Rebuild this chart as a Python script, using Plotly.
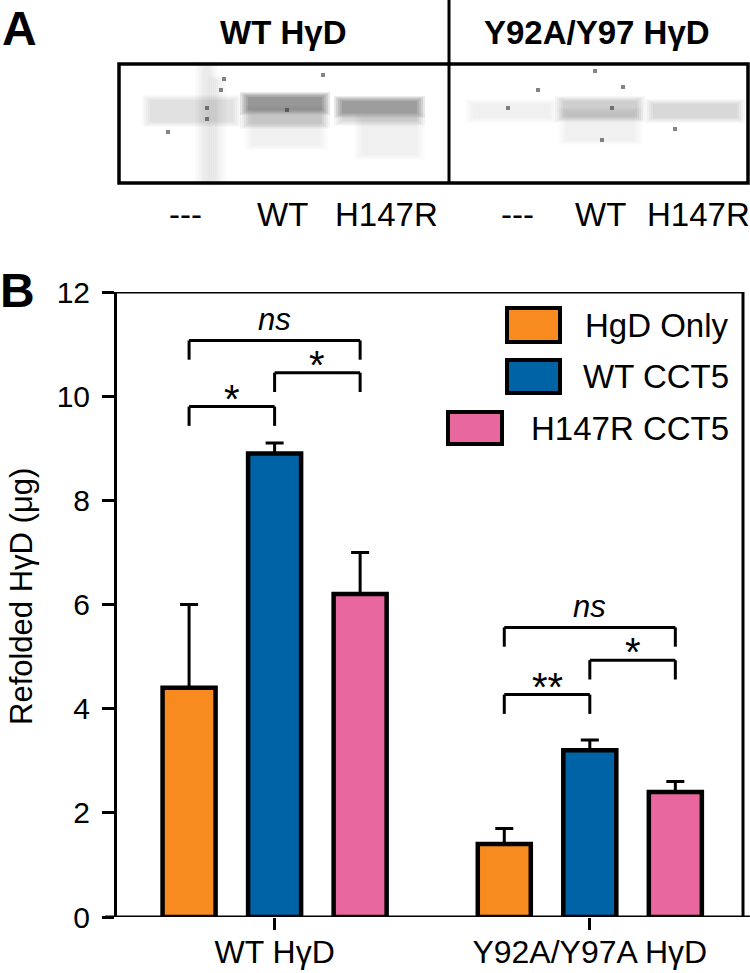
import plotly.graph_objects as go

W, H = 750, 973
FONT = "Liberation Sans, Arial, sans-serif"

# ---------------- data ----------------
categories = ["WT HγD", "Y92A/Y97A HγD"]
series_names = ["HgD Only", "WT CCT5", "H147R CCT5"]
series_colors = ["#F78B1F", "#0063A6", "#E8679E"]
hgd_only = [4.4, 1.4]
wt_cct5 = [8.9, 3.2]
h147r_cct5 = [6.2, 2.4]
hgd_only_err = [1.6, 0.3]
wt_cct5_err = [0.2, 0.2]
h147r_cct5_err = [0.8, 0.2]
y_ticks = [0, 2, 4, 6, 8, 10, 12]
# significance brackets: (category index, bar i, bar j, bracket level, label)
brackets = [
    (0, 0, 1, 9.80, "*"),
    (0, 1, 2, 10.45, "*"),
    (0, 0, 2, 11.07, "ns"),
    (1, 0, 1, 4.27, "**"),
    (1, 1, 2, 4.93, "*"),
    (1, 0, 2, 5.56, "ns"),
]
gel_titles = ["WT HγD", "Y92A/Y97 HγD"]
lane_labels = ["---", "WT", "H147R", "---", "WT", "H147R"]

# ---------------- layout helpers ----------------
def px(x):
    return x / W

def py(y):
    return 1 - y / H

def label(x, y, text, size, **kw):
    d = dict(x=px(x), y=py(y), xref="paper", yref="paper", text=text, showarrow=False,
             xanchor="center", yanchor="middle", font=dict(family=FONT, size=size, color="black"))
    d.update(kw)
    return d

BARGAP = 0.186
BARGROUPGAP = 0.38
SLOT = (1 - BARGAP) / 3
LEG_DROP = 0.37

fig = go.Figure()
values = [hgd_only, wt_cct5, h147r_cct5]
errors = [hgd_only_err, wt_cct5_err, h147r_cct5_err]
for name, col, v, e in zip(series_names, series_colors, values, errors):
    fig.add_trace(go.Bar(
        x=categories, y=v, name=name,
        marker=dict(color=col, line=dict(color="black", width=4.5)),
        error_y=dict(type="data", symmetric=False, array=e, arrayminus=[0] * len(e),
                     color="black", thickness=3, width=9),
        showlegend=False,
    ))

shapes = []
annotations = []

# frame lines of panel B
shapes.append(dict(type="line", xref="x domain", yref="y", x0=-0.019, x1=1.011, y0=0, y1=0,
                   line=dict(color="black", width=3)))
shapes.append(dict(type="line", xref="x domain", yref="y", x0=-0.019, x1=1.0, y0=12, y1=12,
                   line=dict(color="black", width=3)))
shapes.append(dict(type="line", xref="x domain", yref="y", x0=1.0, x1=1.0, y0=0, y1=12,
                   line=dict(color="black", width=3)))

# significance brackets
for c, i, j, lvl, lab in brackets:
    xi = c + (i - 1) * SLOT
    xj = c + (j - 1) * SLOT
    for (a0, a1, b0, b1) in [(xi, xj, lvl, lvl), (xi, xi, lvl - LEG_DROP, lvl), (xj, xj, lvl - LEG_DROP, lvl)]:
        shapes.append(dict(type="line", xref="x", yref="y", x0=a0, x1=a1, y0=b0, y1=b1,
                           line=dict(color="black", width=3)))
    if lab == "ns":
        annotations.append(dict(x=(xi + xj) / 2, y=lvl, xref="x", yref="y", text="<i>ns</i>",
                                showarrow=False, xanchor="center", yanchor="middle", yshift=21,
                                font=dict(family=FONT, size=31, color="black")))
    else:
        annotations.append(dict(x=(xi + xj) / 2, y=lvl, xref="x", yref="y", text=lab,
                                showarrow=False, xanchor="center", yanchor="middle", yshift=8,
                                font=dict(family=FONT, size=40, color="black")))

# manual legend (right-aligned text, swatch on left)
legend_rows = [(507, 560, 308, 342, 325), (507, 560, 360, 393, 376), (448, 502, 412, 444, 428)]
for (x0, x1, y0, y1, yc), name, col in zip(legend_rows, series_names, series_colors):
    shapes.append(dict(type="rect", xref="paper", yref="paper", x0=px(x0), x1=px(x1), y0=py(y1), y1=py(y0),
                       fillcolor=col, line=dict(color="black", width=4)))
    annotations.append(label(731, yc, name, 33, xanchor="right"))

# y-axis title
annotations.append(label(21, 597, "Refolded HγD (μg)", 31, textangle=-90))

# panel letters
annotations.append(label(19, 28, "<b>A</b>", 48))
annotations.append(label(17, 291, "<b>B</b>", 48))

# ---------------- panel A (gel) ----------------
gel_bands = [
    (150, 233, 100, 122, 0.14),
    (248, 322, 97, 110, 0.40),
    (248, 322, 97, 124, 0.22),
    (252, 320, 110, 145, 0.08),
    (342, 417, 101, 113, 0.38),
    (342, 417, 101, 121, 0.18),
    (362, 417, 118, 155, 0.07),
    (473, 550, 104, 118, 0.07),
    (563, 637, 101, 117, 0.24),
    (566, 635, 112, 140, 0.07),
    (653, 737, 104, 118, 0.17),
    (203, 210, 66, 181, 0.10),
    (215, 219, 80, 181, 0.06),
]
PADS = (8, 6, 4, 2, 0)
for x0, x1, y0, y1, a in gel_bands:
    for pad in PADS:
        shapes.append(dict(type="rect", xref="paper", yref="paper", layer="below",
                           x0=px(x0 - pad), x1=px(x1 + pad), y0=py(y1 + pad * 0.6), y1=py(y0 - pad * 0.6),
                           fillcolor=f"rgba(40,40,40,{a / len(PADS):.3f})", line=dict(width=0)))
specks = [(207, 108), (207, 119), (224, 79), (287, 110), (323, 75), (595, 71), (508, 108),
          (623, 87), (602, 140), (221, 90), (538, 90), (168, 132), (612, 108), (675, 129)]
for sx, sy in specks:
    shapes.append(dict(type="rect", xref="paper", yref="paper", x0=px(sx - 2), x1=px(sx + 2),
                       y0=py(sy + 2), y1=py(sy - 2), fillcolor="rgba(50,50,50,0.6)", line=dict(width=0)))

shapes.append(dict(type="rect", xref="paper", yref="paper", x0=px(119), x1=px(748), y0=py(183), y1=py(64),
                   line=dict(color="black", width=3.5)))
shapes.append(dict(type="line", xref="paper", yref="paper", x0=px(449), x1=px(449), y0=py(183), y1=py(0),
                   line=dict(color="black", width=3)))

for t, xc in zip(gel_titles, [283, 597]):
    annotations.append(label(xc, 33, f"<b>{t}</b>", 33))
for t, xc in zip(lane_labels, [185, 282, 386, 517, 600, 698]):
    annotations.append(label(xc, 214, t, 33))

fig.update_layout(
    width=W, height=H,
    margin=dict(l=0, r=0, t=0, b=0, autoexpand=False),
    paper_bgcolor="white", plot_bgcolor="white",
    barmode="group", bargap=BARGAP, bargroupgap=BARGROUPGAP,
    shapes=shapes, annotations=annotations,
    font=dict(family=FONT, color="black"),
    xaxis=dict(domain=[117 / W, 743 / W], type="category", range=[-0.5, 1.486], automargin=False,
               showline=False, showgrid=False, zeroline=False,
               ticks="outside", ticklen=12, tickwidth=3, tickcolor="black", ticklabelstandoff=-5,
               tickfont=dict(family=FONT, size=32, color="black")),
    yaxis=dict(domain=[1 - 917 / H, 1 - 292 / H], range=[0, 12], tickvals=y_ticks, automargin=False,
               showline=True, linewidth=3, linecolor="black", showgrid=False, zeroline=False,
               ticks="outside", ticklen=12, tickwidth=3, tickcolor="black", ticklabelstandoff=6,
               tickfont=dict(family=FONT, size=30, color="black")),
)

fig.write_html("out.html", config={"displayModeBar": False},
               post_script="document.body.style.margin='0';")
